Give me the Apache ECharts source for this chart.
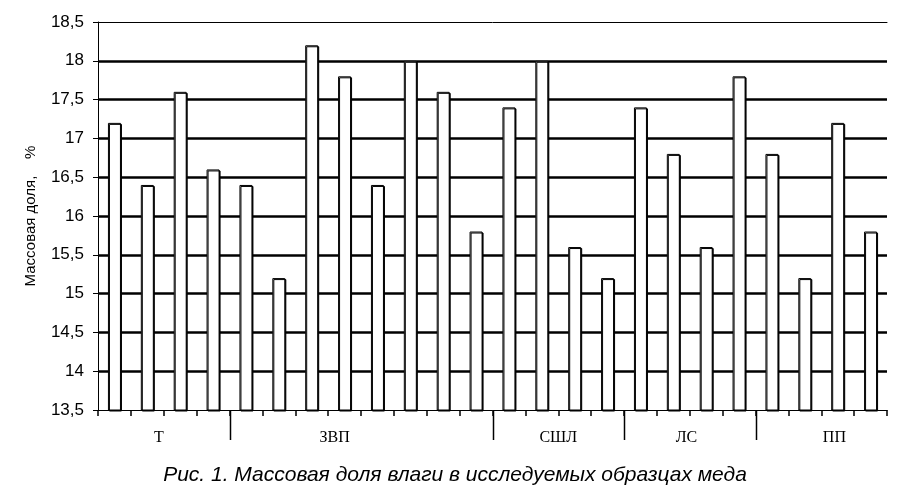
<!DOCTYPE html>
<html>
<head>
<meta charset="utf-8">
<script src="https://cdn.jsdelivr.net/npm/echarts@6/dist/echarts.min.js"></script>
<style>
  html, body { margin: 0; padding: 0; background: #fff; }
  #chart { width: 903px; height: 493px; }
</style>
</head>
<body>
<div id="chart"></div>
<script>
// samples, one bar each
const samples = ['1','2','3','4','5','6','7','8','9','10','11','12',
                 '13','14','15','16','17','18','19','20','21','22','23','24']
const moisture = [17.2, 16.4, 17.6, 16.6, 16.4, 15.2, 18.2, 17.8, 16.4, 18.0, 17.6, 15.8,
                  17.4, 18.0, 15.6, 15.2, 17.4, 16.8, 15.6, 17.8, 16.8, 15.2, 17.2, 15.8]
// groups: name, first sample index, count
const groupNames = ['Т', 'ЗВП', 'СШЛ', 'ЛС', 'ПП']
const groupStart = [0, 4, 12, 16, 20]
const groupSize = [4, 8, 4, 4, 4]
// where each group label sits (in category units)
const groupLabelAt = [1.35, 6.7, 13.5, 17.4, 21.9]

const chart = echarts.init(document.getElementById('chart'))

const fmt = v => String(v).replace('.', ',')

// separators between the groups, below the axis
const separators = groupStart.filter(i => i > 0).map(i => [i, 13.5])

chart.setOption({
    animation: false,
    grid: { left: 98, right: 16, top: 22, bottom: 83 },
    xAxis: [
        {
            type: 'category',
            data: samples,
            position: 'bottom',
            axisLine: { show: true, onZero: false, lineStyle: { color: '#000', width: 1 } },
            axisTick: { show: true, length: 6, lineStyle: { color: '#000', width: 1.5 } },
            axisLabel: { show: false },
            z: 5
        },
        {
            // thin line on top of the plot
            type: 'category',
            data: samples,
            position: 'top',
            axisLine: { show: true, onZero: false, lineStyle: { color: '#000', width: 1 } },
            axisTick: { show: false },
            axisLabel: { show: false }
        }
    ],
    yAxis: {
        type: 'value',
        min: 13.5,
        max: 18.5,
        interval: 0.5,
        name: 'Массовая доля,    %',
        nameLocation: 'middle',
        nameGap: 60,
        nameRotate: 90,
        nameTextStyle: { color: '#000', fontFamily: 'Liberation Sans', fontSize: 15 },
        axisLine: { show: true, onZero: false, lineStyle: { color: '#000', width: 1 } },
        axisTick: { show: true, length: 5, lineStyle: { color: '#000' } },
        axisLabel: {
            color: '#000',
            fontFamily: 'Liberation Sans',
            fontSize: 17,
            margin: 14,
            formatter: fmt
        },
        splitLine: {
            show: true,
            showMinLine: false,
            showMaxLine: false,
            lineStyle: { color: '#000', width: 2.5 }
        }
    },
    series: [
        {
            type: 'bar',
            data: moisture,
            xAxisIndex: 0,
            barWidth: 13,
            itemStyle: {
                color: '#fff',
                borderColor: '#000',
                borderWidth: 1,
                shadowColor: '#000',
                shadowBlur: 0,
                shadowOffsetX: 1,
                shadowOffsetY: 1
            },
            z: 3
        },
        {
            type: 'custom',
            xAxisIndex: 0,
            data: separators,
            clip: false,
            silent: true,
            renderItem: function (params, api) {
                const p = api.coord([api.value(0), api.value(1)])
                const w = api.size([1, 0])[0]
                const x = Math.round(p[0] - w / 2) + 0.5
                return {
                    type: 'line',
                    shape: { x1: x, y1: p[1], x2: x, y2: p[1] + 30 },
                    style: { stroke: '#000', lineWidth: 1.5 }
                }
            }
        }
    ]
})

// group labels and caption
function placeText() {
    const p0 = chart.convertToPixel({ xAxisIndex: 0 }, 0)
    const p1 = chart.convertToPixel({ xAxisIndex: 0 }, 1)
    const step = p1 - p0
    const elements = groupNames.map((name, i) => ({
        type: 'text',
        x: p0 + groupLabelAt[i] * step,
        y: 438,
        style: {
            text: name,
            fill: '#000',
            font: '16px "Liberation Serif"',
            align: 'center',
            verticalAlign: 'middle'
        }
    }))
    elements.push({
        type: 'text',
        x: 455,
        y: 475,
        style: {
            text: 'Рис. 1. Массовая доля влаги в исследуемых образцах меда',
            fill: '#000',
            font: 'italic 21px "Liberation Sans"',
            align: 'center',
            verticalAlign: 'middle'
        }
    })
    chart.setOption({ graphic: elements })
}
placeText()
</script>
</body>
</html>
